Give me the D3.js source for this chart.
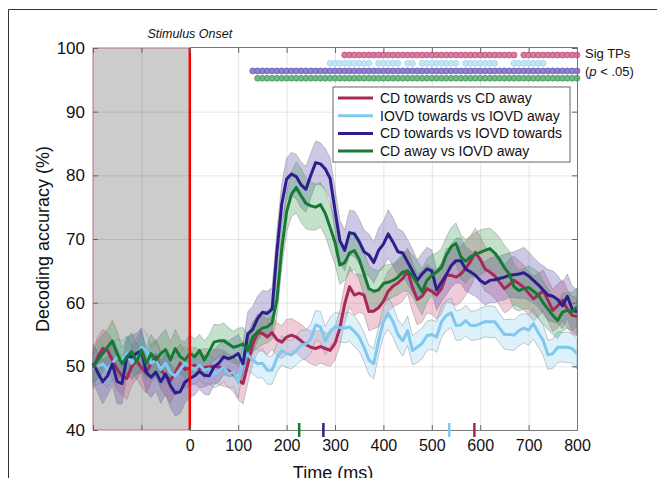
<!DOCTYPE html>
<html>
<head>
<meta charset="utf-8">
<script src="https://cdn.jsdelivr.net/npm/d3@7"></script>
<style>
  body { margin: 0; background: #fff; }
  svg { display: block; font-family: "Liberation Sans", Arial, sans-serif; }
</style>
</head>
<body>
<svg id="chart" width="657" height="478"></svg>
<script>
// time points (ms), one sample every 10 ms
var times = d3.range(-200, 801, 10);

// mean decoding accuracy (%) per comparison
var cdTowardsVsCdAway = [
  49.5, 51.5, 52.8, 52.5, 51, 49.5, 48.5, 48.1, 50, 50.9, 49.8, 49, 50.5, 51.5, 49.5, 48.5, 47.8, 49, 50.5, 49.5, 49.8,
  50.2, 49.6, 49.8, 49.9, 50, 49.9, 49.7, 49.3, 48.8, 47.8, 47.3, 50.4, 53.5, 55.2, 55.2, 54.6, 55.3,
  54.2, 53.8, 54.6, 54.9, 54.6, 54, 53.4, 53, 52.8, 53.1, 52.8, 52.5, 53.6,
  56, 59.8, 62.5, 61.2, 61.5, 61.2, 58.6, 58.7, 59.2, 60.2,
  61.8, 62.6, 63.1, 63.8, 65, 62.4, 60.5, 61, 62.2, 61.8,
  61.2, 62.2, 64.3, 64.3, 64, 64.5, 65.4, 66.5, 67.9, 66.8,
  65.3, 64.8, 64.2, 63.2, 62.2, 62.8, 63.5, 63, 62.4, 61.5,
  60.6, 61.2, 61.9, 60.4, 58.8, 59.5, 60.4, 59, 58, 57.8
];
var iovdTowardsVsIovdAway = [
  49.5, 50, 50.4, 49.5, 50.5, 51.5, 51, 52, 50.5, 51.5, 53, 52.5, 50.5, 51, 49.5, 50.5, 49, 48.5, 49.5, 50.5, 50,
  49.5, 50.2, 49.4, 49.6, 48.8, 49.2, 49.9, 48.8, 49.1, 47.5, 51.5, 51.8, 51, 50.4, 50.5, 49.4, 49.4,
  51.3, 52.5, 52, 51.8, 52.5, 53.3, 53.5, 54.3, 56.5, 56.2, 54, 55.5, 56.2,
  56.1, 56, 56.2, 55.5, 54.6, 53, 51, 50.4, 54, 57,
  58.3, 57, 55, 54, 55.6, 52.5, 53, 53.6, 54.8, 55,
  54.6, 57, 58, 58.4, 56.4, 56.5, 57.2, 56.4, 56.4, 56.7,
  57, 57, 57, 56, 55, 55, 54.9, 55.6, 56, 55.7,
  56.7, 55.3, 54.1, 51.8, 52, 53, 53, 53, 52.8, 52
];
var cdTowardsVsIovdTowards = [
  50.5, 49, 47.6, 48.5, 50.4, 47.6, 47.3, 51.5, 51.5, 52, 52.5, 49, 48.3, 49.1, 47.6, 48.8, 47, 45.8, 46, 47.5, 48.1,
  48.5, 49.2, 48.6, 48.5, 49.9, 50.5, 51.5, 51.2, 51.5, 52, 50.4, 55.1, 55.8, 57.5, 58.5, 58.3, 59,
  68, 75.5, 79.4, 80.2, 79.8, 78.5, 77.8, 80, 82, 81.8, 81, 79.5, 74.5,
  69.8, 68.2, 71, 70.8, 69.6, 68, 67.5, 66.3, 68.2, 69.2,
  70.8, 69.5, 68, 67.8, 66.4, 65, 63.5, 64.5, 65.3, 65,
  62, 63.2, 64.4, 65.8, 66.6, 66.6, 65.3, 64.8, 64.3, 63.5,
  63, 63.5, 63.6, 63.8, 64, 64.3, 64.4, 64.5, 64.7, 64.2,
  63.5, 62.8, 62, 61.2, 61, 60.5, 59.5, 61, 59, 58.5
];
var cdAwayVsIovdAway = [
  49.9, 51, 52, 53, 54, 52, 50.4, 51.5, 52.3, 50.7, 52.6, 50.4, 52, 51, 52, 52.6, 51, 52.8, 51.5, 51, 52,
  51.5, 52.5, 51, 52.3, 53.8, 54, 54, 53.5, 53, 53.2, 53.5, 52.5, 54.6, 55.4, 56, 56.2, 56.8,
  60.5, 68.5, 74.3, 77, 78.1, 76.8, 75.6, 75.2, 75, 75.4, 74, 71.8, 69.5,
  65.9, 66.3, 67.8, 68.2, 66.8, 64.5, 62.2, 61.8, 62, 63,
  63.2, 63.5, 64, 64.8, 65, 64.2, 63, 61.7, 63.5, 64.3,
  64.8, 65.5, 67.5, 68.8, 69.3, 67.2, 66.5, 67.2, 67.6, 67.9,
  68.2, 68.5, 67.8, 66.8, 65.5, 64.5, 62.5, 61.9, 62.2, 62.4,
  61.8, 61.2, 60, 59, 58, 57.2, 58.5, 58.8, 58.6, 59.3
];

// standard error (half band width, %)
var cdTowardsVsCdAwaySe = [
  3, 3.2, 3, 2.8, 3, 3.2, 3, 3.3, 3, 2.8, 3, 3.2, 3, 2.8, 3, 3.2, 3.5, 3.2, 3, 3, 3,
  2.8, 3, 3, 2.8, 2.6, 2.8, 2.8, 2.6, 2.8, 3, 3.2, 3, 3.2, 3, 2.8, 2.8, 2.6,
  2.6, 2.6, 2.8, 2.6, 2.5, 2.6, 2.5, 2.6, 2.7, 2.6, 2.6, 2.5, 2.6,
  2.8, 3, 3.2, 3.2, 3, 3, 3, 2.8, 3, 3,
  3.2, 3.2, 3.4, 3.5, 3.6, 3.8, 4, 4, 3.8, 3.6,
  3.8, 4, 4.2, 4.4, 4.5, 4.4, 4.2, 4, 3.8, 3.6,
  3.5, 3.4, 3.5, 3.6, 3.8, 4, 3.8, 3.6, 3.5, 3.4,
  3.5, 3.4, 3.2, 3.2, 3.3, 3.4, 3.2, 3, 3, 3
];
var iovdTowardsVsIovdAwaySe = [
  2.6, 2.8, 3, 2.8, 2.6, 2.8, 3, 2.8, 2.6, 2.8, 3, 2.8, 2.6, 2.8, 2.6, 2.5, 2.8, 2.6, 2.5, 2.6, 2.5,
  2.4, 2.3, 2.2, 2.3, 2.2, 2.2, 2.3, 2.2, 2.3, 2.4, 2.2, 2.4, 2.2, 2.2, 2.3, 2.2, 2.2,
  2.2, 2.3, 2.2, 2.2, 2.3, 2.4, 2.2, 2.3, 2.3, 2.4, 2.2, 2.2, 2.3,
  2.2, 2.3, 2.3, 2.4, 2.2, 2.3, 2.3, 2.4, 2.2, 2.3,
  2.5, 2.4, 2.3, 2.4, 2.3, 2.3, 2.4, 2.4, 2.3, 2.3,
  2.4, 2.5, 2.4, 2.3, 2.3, 2.4, 2.4, 2.3, 2.3, 2.4,
  2.4, 2.5, 2.4, 2.3, 2.3, 2.4, 2.4, 2.4, 2.3, 2.4,
  2.4, 2.3, 2.4, 2.3, 2.3, 2.4, 2.3, 2.4, 2.3, 2.4
];
var cdTowardsVsIovdTowardsSe = [
  3, 3.2, 3.5, 3, 3.4, 3.5, 3.2, 3, 3.4, 3.2, 3.5, 3, 3.2, 3, 3.4, 3.2, 3.5, 3.6, 3.4, 3.2, 3,
  3, 2.8, 3, 3, 2.8, 3, 2.8, 2.8, 3, 3, 3.2, 3.5, 3.6, 3.5, 3.4, 3.5, 3.4,
  3.2, 3.2, 3.3, 3.4, 3.5, 3.6, 3.6, 3.5, 3.4, 3.3, 3.2, 3.3, 3.4,
  3.2, 3.2, 3.5, 3.6, 3.5, 3.4, 3.3, 3.2, 3.5, 3.6,
  3.8, 3.8, 3.6, 3.4, 3.5, 3.4, 3.2, 3.3, 3.4, 3.3,
  3.2, 3, 3.2, 3.4, 3.5, 3.6, 3.5, 3.4, 3.3, 3.2,
  3.4, 3.5, 3.6, 3.5, 3.6, 3.5, 3.6, 3.8, 4, 3.8,
  3.6, 3.5, 3.8, 4, 4, 3.8, 3.6, 3.5, 3.6, 3.5
];
var cdAwayVsIovdAwaySe = [
  2.5, 3, 3, 2.8, 3.2, 3.5, 2.5, 3, 3, 2.8, 3, 2.5, 3, 2.8, 3, 3.2, 2.8, 3, 2.6, 2.8, 3,
  2.8, 2.5, 3, 2.6, 2.8, 2.5, 2.8, 2.6, 2.5, 2.8, 2.6, 2.5, 2.4, 2.5, 2.6, 2.5, 2.6,
  2.8, 3, 3.2, 3.5, 4, 4.2, 4, 3.8, 3.6, 3.5, 3.5, 3.6, 3.5,
  3, 2.8, 3, 3, 3.2, 3.5, 3.6, 3.4, 3, 2.8,
  2.8, 2.6, 2.8, 3, 3.2, 3.3, 3.5, 3.6, 3.4, 3.2,
  3, 3, 2.8, 3, 3.2, 3.5, 3.4, 3.2, 3.4, 3.5,
  3.4, 3.2, 3.3, 3.4, 3.5, 3.6, 3.5, 3.2, 3.2, 3.4,
  3.5, 3.6, 3.4, 3.2, 3, 2.8, 3, 2.8, 3, 3
];

// significant time-point runs [start, end] in ms
var sigCdTowardsVsCdAway = [[320, 670], [690, 800]];
var sigIovdTowardsVsIovdAway = [[290, 370], [390, 430], [450, 460], [480, 510], [520, 550], [570, 600], [610, 630], [670, 690], [700, 730]];
var sigCdTowardsVsIovdTowards = [[130, 800]];
var sigCdAwayVsIovdAway = [[140, 800]];

// first time each comparison became significant (coloured axis markers)
var onsetMarkers = [226, 276, 536, 588];

var legendLabels = ["CD towards vs CD away", "IOVD towards vs IOVD away",
                    "CD towards vs IOVD towards", "CD away vs IOVD away"];
var xTickValues = [-200, -100, 0, 100, 200, 300, 400, 500, 600, 700, 800];
var yTickValues = [40, 50, 60, 70, 80, 90, 100];

var colors = ["#a8285a", "#7fc8ee", "#2b1f8e", "#167a34"];
var bandFills = ["#c9557f", "#8fd0f2", "#5a4aa8", "#3a9a55"];
var dotFills = ["#d67ea2", "#c2e6f8", "#8f83cf", "#71b986"];
var dotEdges = ["#c1467a", "#9fd4f0", "#6455b6", "#44995c"];
var sigRowLevels = [98.9, 97.6, 96.4, 95.25];
var markerOrder = [3, 2, 1, 0]; // green, blue, light blue, maroon

var seriesData = [cdTowardsVsCdAway, iovdTowardsVsIovdAway, cdTowardsVsIovdTowards, cdAwayVsIovdAway];
var seriesSe = [cdTowardsVsCdAwaySe, iovdTowardsVsIovdAwaySe, cdTowardsVsIovdTowardsSe, cdAwayVsIovdAwaySe];
var sigRuns = [sigCdTowardsVsCdAway, sigIovdTowardsVsIovdAway, sigCdTowardsVsIovdTowards, sigCdAwayVsIovdAway];

var svg = d3.select("#chart");
var plotLeft = 93, plotRight = 577, plotTop = 48, plotBottom = 430;

var x = d3.scaleLinear().domain([-200, 800]).range([plotLeft, plotRight]);
var y = d3.scaleLinear().domain([40, 100]).range([plotBottom, plotTop]);

// outer frame of the panel
svg.append("path")
  .attr("d", "M8.5,478 V9.5 H657")
  .attr("fill", "none")
  .attr("stroke", "#333")
  .attr("stroke-width", 1);

// pre-stimulus baseline patch
svg.append("rect")
  .attr("x", x(-200)).attr("y", y(100))
  .attr("width", x(0) - x(-200)).attr("height", y(40) - y(100))
  .attr("fill", "#cccccc")
  .attr("stroke", "#b07585")
  .attr("stroke-width", 1);

// grid
var grid = svg.append("g").attr("stroke", "#000").attr("stroke-opacity", 0.1).attr("stroke-width", 1);
grid.selectAll(".gx").data(xTickValues.slice(1, -1)).enter().append("line")
  .attr("x1", d => x(d) + 0.5).attr("x2", d => x(d) + 0.5)
  .attr("y1", y(100)).attr("y2", y(40));
grid.selectAll(".gy").data(yTickValues.slice(1, -1)).enter().append("line")
  .attr("x1", x(-200)).attr("x2", x(800))
  .attr("y1", d => y(d) + 0.5).attr("y2", d => y(d) + 0.5);

// error bands
var area = d3.area()
  .x((d, i) => x(times[i]))
  .y0(d => y(d[0] - d[1]))
  .y1(d => y(d[0] + d[1]));
var line = d3.line()
  .x((d, i) => x(times[i]))
  .y(d => y(d));

seriesData.forEach(function(vals, k) {
  var pairs = vals.map((v, i) => [v, seriesSe[k][i]]);
  svg.append("path")
    .datum(pairs)
    .attr("d", area)
    .attr("fill", bandFills[k])
    .attr("fill-opacity", 0.3)
    .attr("stroke", "#777")
    .attr("stroke-opacity", 0.65)
    .attr("stroke-width", 0.6);
});

seriesData.forEach(function(vals, k) {
  svg.append("path")
    .datum(vals)
    .attr("d", line)
    .attr("fill", "none")
    .attr("stroke", colors[k])
    .attr("stroke-width", 3)
    .attr("stroke-linejoin", "round");
});

// stimulus onset line
svg.append("line")
  .attr("x1", x(0)).attr("x2", x(0))
  .attr("y1", y(100)).attr("y2", y(40))
  .attr("stroke", "#ff0000")
  .attr("stroke-width", 2.5);

// significant time points, one bead per sample
sigRuns.forEach(function(runs, k) {
  var pts = times.filter(t => runs.some(r => t >= r[0] && t <= r[1]));
  svg.append("g").selectAll("circle").data(pts).enter().append("circle")
    .attr("cx", d => x(d))
    .attr("cy", y(sigRowLevels[k]))
    .attr("r", 2.9)
    .attr("fill", dotFills[k])
    .attr("stroke", dotEdges[k])
    .attr("stroke-width", 0.8);
});

// axes (ticks pointing inward)
var xAxis = svg.append("g").attr("transform", "translate(0," + plotBottom + ")")
  .call(d3.axisBottom(x).tickValues(xTickValues).tickSize(-5).tickPadding(10)
    .tickFormat(d => d >= 0 ? d : ""));
var xTop = svg.append("g").attr("transform", "translate(0," + plotTop + ")")
  .call(d3.axisTop(x).tickValues(xTickValues).tickSize(-5).tickFormat(""));
var yAxis = svg.append("g").attr("transform", "translate(" + plotLeft + ",0)")
  .call(d3.axisLeft(y).tickValues(yTickValues).tickSize(-5).tickPadding(8));
var yRight = svg.append("g").attr("transform", "translate(" + plotRight + ",0)")
  .call(d3.axisRight(y).tickValues(yTickValues).tickSize(-5).tickFormat(""));

[xAxis, xTop, yAxis, yRight].forEach(function(g) {
  g.select(".domain").remove();
  g.selectAll(".tick line").attr("stroke", "#666");
  g.selectAll("text").attr("fill", "#111")
    .attr("font-family", "'Liberation Sans', Arial, sans-serif");
});
xAxis.selectAll("text").attr("font-size", 16);
yAxis.selectAll("text").attr("font-size", 17);

// axes box
svg.append("path")
  .attr("d", "M" + x(0) + "," + (plotBottom + 0.5) + " H" + (plotRight + 0.5) + " V" + (plotTop - 0.5) + " H" + x(0))
  .attr("fill", "none")
  .attr("stroke", "#777")
  .attr("stroke-width", 1);

// onset markers on the time axis
svg.append("g").selectAll("line").data(onsetMarkers).enter().append("line")
  .attr("x1", d => x(d)).attr("x2", d => x(d))
  .attr("y1", plotBottom - 7).attr("y2", plotBottom + 7)
  .attr("stroke", (d, i) => colors[markerOrder[i]])
  .attr("stroke-width", 2.5);

// axis titles
svg.append("text")
  .attr("x", (plotLeft + plotRight) / 2 - 2).attr("y", 479)
  .attr("text-anchor", "middle")
  .attr("font-size", 18)
  .attr("fill", "#111")
  .text("Time (ms)");
svg.append("text")
  .attr("transform", "translate(49," + ((plotTop + plotBottom) / 2) + ") rotate(-90)")
  .attr("text-anchor", "middle")
  .attr("font-size", 18)
  .attr("fill", "#111")
  .text("Decoding accuracy (%)");

svg.append("text")
  .attr("x", x(0)).attr("y", 38)
  .attr("text-anchor", "middle")
  .attr("font-size", 12.5)
  .attr("font-style", "italic")
  .attr("fill", "#111")
  .text("Stimulus Onset");

// sig TPs label
svg.append("text")
  .attr("x", 585).attr("y", 58)
  .attr("font-size", 13).attr("fill", "#111")
  .text("Sig TPs");
var pLabel = svg.append("text")
  .attr("x", 585).attr("y", 76)
  .attr("font-size", 13).attr("fill", "#111");
pLabel.append("tspan").text("(");
pLabel.append("tspan").attr("font-style", "italic").text("p");
pLabel.append("tspan").text(" < .05)");

// legend
var legend = svg.append("g").attr("transform", "translate(333,87)");
legend.append("rect")
  .attr("width", 237).attr("height", 75)
  .attr("fill", "#fff")
  .attr("stroke", "#666")
  .attr("stroke-width", 1);
legendLabels.forEach(function(lab, i) {
  var row = legend.append("g").attr("transform", "translate(0," + (11 + i * 17.7) + ")");
  row.append("line")
    .attr("x1", 5).attr("x2", 40)
    .attr("stroke", colors[i]).attr("stroke-width", 3);
  row.append("text")
    .attr("x", 47).attr("y", 5)
    .attr("font-size", 14).attr("fill", "#111")
    .text(lab);
});
</script>
</body>
</html>
